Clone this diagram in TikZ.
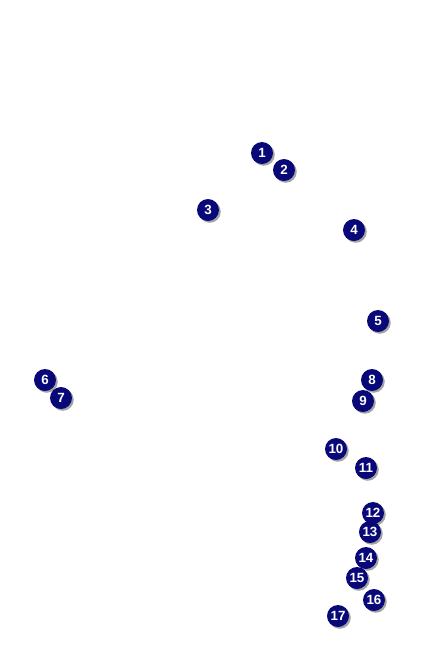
\documentclass[tikz,border=0pt]{standalone}
\usepackage{fontspec}
\setmainfont{Liberation Sans}
\usetikzlibrary{shadows}
\definecolor{navy}{RGB}{8,8,120}
\begin{document}
\begin{tikzpicture}[x=0.02cm, y=-0.02cm, line join=round, line cap=round]
			\tikzset{pin/.style={circle, fill=navy, inner sep=0pt, minimum size=22*0.02cm,
				text=white, font=\fontsize{7.6}{8}\selectfont\bfseries,
				drop shadow={shadow xshift=1pt, shadow yshift=-1pt, fill=gray!80, opacity=0.9}}}
			\useasboundingbox (0,0) rectangle (433,650);
			%\draw[color=gray!50,dashed] (0,0) grid[step=50] (433,650);
			\node[pin] (p1) at (262,153) {1};
			\node[pin] (p2) at (284,170) {2};
			\node[pin] (p3) at (208,210) {3};
			\node[pin] (p4) at (354,230) {4};
			\node[pin] (p5) at (378,321) {5};
			\node[pin] (p6) at (45,380) {6};
			\node[pin] (p7) at (61,398) {7};
			\node[pin] (p8) at (372,380) {8};
			\node[pin] (p9) at (363,401) {9};
			\node[pin] (p10) at (336,449) {10};
			\node[pin] (p11) at (366,468) {11};
			\node[pin] (p12) at (373,513) {12};
			\node[pin] (p13) at (370,532) {13};
			\node[pin] (p14) at (366,558) {14};
			\node[pin] (p15) at (357,578) {15};
			\node[pin] (p16) at (374,600) {16};
			\node[pin] (p17) at (338,616) {17};
		\end{tikzpicture}
\end{document}
